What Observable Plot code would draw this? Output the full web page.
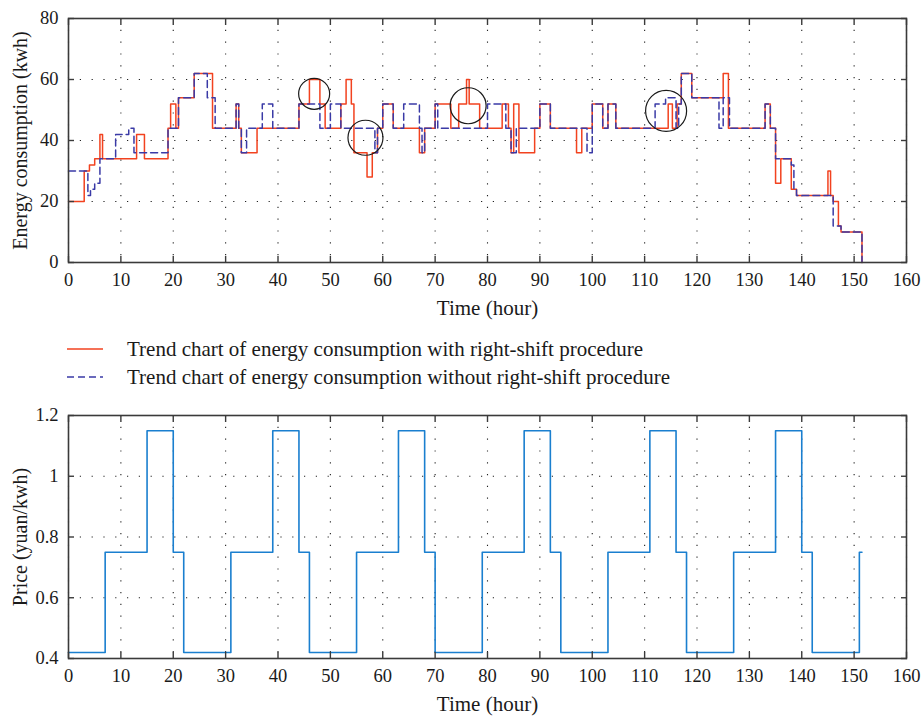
<!DOCTYPE html>
<html>
<head>
<meta charset="utf-8">
<script src="https://cdn.jsdelivr.net/npm/d3@7"></script>
<script src="https://cdn.jsdelivr.net/npm/@observablehq/plot@0.6"></script>
<style>
  body { margin: 0; background: #fff; }
  #page { position: relative; width: 924px; height: 716px; font-family: "Liberation Serif", "DejaVu Serif", serif; color: #1a1a1a; }
  #top, #bottom, #legend { position: absolute; left: 0; }
  #top { top: 0; }
  #bottom { top: 395px; }
  #legend { top: 335px; font-size: 21px; }
  .row { position: absolute; left: 0; height: 28px; width: 924px; }
  .row svg { position: absolute; left: 64px; top: 0; }
  .row span { position: absolute; left: 127px; top: 2px; white-space: nowrap; line-height: 24px; }
</style>
</head>
<body>
<div id="page">
  <div id="top"></div>
  <div id="legend"></div>
  <div id="bottom"></div>
</div>
<script>
// Hourly energy profile with the right-shift procedure: each level holds from its start hour to the next one
const hoursWith = [0, 3, 4, 5, 6, 6.5, 13, 14.5, 19, 19.5, 20.5, 21, 24, 27.5, 32, 32.5, 33, 36,
  44, 46, 48, 49, 52, 53, 54, 54.5, 57, 58, 59, 60, 62, 67, 68, 70, 73, 74.5, 76, 76.5, 78.5,
  82.8, 84, 84.5, 85, 86, 89, 90, 92, 97, 98, 100, 102, 103, 104.5, 114.5, 115.3, 116.2, 117,
  119, 125, 126, 133, 134, 135, 136, 138, 139, 145, 145.5, 146, 147, 147.5];
const energyWith = [20, 30, 32, 34, 42, 34, 42, 34, 44, 52, 44, 54, 62, 44, 52, 44, 36, 44,
  52, 60, 52, 44, 52, 60, 52, 36, 28, 36, 44, 52, 44, 36, 44, 52, 44, 52, 60, 52, 44,
  52, 44, 36, 52, 36, 44, 52, 44, 36, 44, 52, 44, 52, 44, 52, 44, 52, 62,
  54, 62, 44, 52, 44, 26, 34, 24, 22, 30, 22, 20, 12, 10];

// Hourly energy profile without the right-shift procedure
const hoursWithout = [0, 3.7, 4.2, 5, 6, 9, 11.5, 12.5, 19, 21, 24, 26.5, 28, 32, 32.5, 33, 34,
  37, 39, 44, 48, 50, 52, 58.5, 59, 60, 62, 64, 67, 67.5, 68, 70, 70.5, 80, 83.5, 84.5, 85.5,
  90, 92, 99, 100, 102, 103, 104.5, 112, 114, 116, 116.5, 117, 119, 124.2, 125, 126.2, 133,
  134, 135, 138, 138.5, 139, 146, 147.5];
const energyWithout = [30, 22, 24, 26, 34, 42, 44, 36, 44, 54, 62, 54, 44, 52, 44, 36, 44,
  52, 44, 52, 44, 52, 44, 36, 44, 52, 44, 52, 44, 36, 44, 52, 44, 52, 44, 36, 44,
  52, 44, 36, 52, 44, 52, 44, 52, 54, 44, 52, 62, 54, 44, 54, 44, 52,
  44, 34, 32, 24, 22, 12, 10];

const endHour = 151.5;

// Time-of-use electricity price (yuan/kwh)
const priceHours = [0, 7, 15, 20, 22, 31, 39, 44, 46, 55, 63, 68, 70, 79, 87, 92, 94, 103,
  111, 116, 118, 127, 135, 140, 142, 151];
const priceValues = [0.42, 0.75, 1.15, 0.75, 0.42, 0.75, 1.15, 0.75, 0.42, 0.75, 1.15, 0.75,
  0.42, 0.75, 1.15, 0.75, 0.42, 0.75, 1.15, 0.75, 0.42, 0.75, 1.15, 0.75, 0.42, 0.75];

// Highlighted shifts (hour, kwh) and ring radii in pixels
const ringHours = [46.9, 56.7, 76.3, 114.1];
const ringLevels = [55.3, 40.9, 51.4, 49.7];
const ringSizes = [15.5, 17.5, 18, 20.5];

const timeTicks = [0, 10, 20, 30, 40, 50, 60, 70, 80, 90, 100, 110, 120, 130, 140, 150, 160];
const energyTicks = [0, 20, 40, 60, 80];
const priceTicks = [0.4, 0.6, 0.8, 1, 1.2];

const RED = "#f2421f";
const BLUE = "#3a3aa6";
const PRICE = "#1a7fcf";
const AXIS = "#3a3a3a";
const INK = "#1a1a1a";
const FONT = "'Liberation Serif', 'DejaVu Serif', serif";

function steps(hours, values, tail) {
  const rows = hours.map((t, i) => ({t, v: values[i]}));
  rows.push({t: endHour, v: values[values.length - 1]});
  if (tail !== undefined) rows.push({t: endHour, v: tail});
  return rows;
}

const withRows = steps(hoursWith, energyWith, 0);
const withoutRows = steps(hoursWithout, energyWithout, 0);
const priceRows = steps(priceHours, priceValues);
const rings = ringHours.map((t, i) => ({t, v: ringLevels[i], r: ringSizes[i]}));

const grid = {stroke: "#222", strokeOpacity: 1, strokeWidth: 1.1, strokeDasharray: "1.2,10.6"};

function frameMarks(yTicks, yFormat, xLabel, yLabel) {
  return [
    Plot.frame({stroke: AXIS, strokeWidth: 1.6}),
    Plot.axisX(timeTicks, {anchor: "bottom", tickSize: -6, tickPadding: 16, stroke: AXIS, strokeWidth: 1.4, fontSize: 18.5, fill: INK, label: null}),
    Plot.axisX(timeTicks, {anchor: "top", tickSize: -6, tickFormat: () => "", stroke: AXIS, strokeWidth: 1.4, label: null}),
    Plot.axisY(yTicks, {anchor: "left", tickSize: -6, tickPadding: 16, tickFormat: yFormat, stroke: AXIS, strokeWidth: 1.4, fontSize: 18.5, fill: INK, label: null}),
    Plot.axisY(yTicks, {anchor: "right", tickSize: -6, tickFormat: () => "", stroke: AXIS, strokeWidth: 1.4, label: null}),
    Plot.text([xLabel], {frameAnchor: "bottom", textAnchor: "middle", dy: 52, fontSize: 21, fill: INK}),
    Plot.text([yLabel], {frameAnchor: "left", textAnchor: "middle", dx: -48, rotate: -90, fontSize: 20, fill: INK})
  ];
}

const topChart = Plot.plot({
  width: 924, height: 320,
  marginLeft: 68, marginRight: 18, marginTop: 18, marginBottom: 58,
  style: {fontFamily: FONT, fontSize: "18px", color: INK, background: "transparent"},
  x: {domain: [0, 160]},
  y: {domain: [0, 80]},
  r: {type: "identity"},
  marks: [
    Plot.gridX(timeTicks, grid),
    Plot.gridY(energyTicks, grid),
    Plot.line(withRows, {x: "t", y: "v", curve: "step-after", stroke: RED, strokeWidth: 1.5}),
    Plot.line(withoutRows, {x: "t", y: "v", curve: "step-after", stroke: BLUE, strokeWidth: 1.5, strokeDasharray: "7,4"}),
    Plot.dot(rings, {x: "t", y: "v", r: "r", stroke: INK, strokeWidth: 1.2, fill: "none"}),
    ...frameMarks(energyTicks, d => d, "Time (hour)", "Energy consumption (kwh)")
  ]
});

const bottomChart = Plot.plot({
  width: 924, height: 321,
  marginLeft: 68, marginRight: 18, marginTop: 20, marginBottom: 58,
  style: {fontFamily: FONT, fontSize: "18px", color: INK, background: "transparent"},
  x: {domain: [0, 160]},
  y: {domain: [0.4, 1.2]},
  marks: [
    Plot.gridX(timeTicks, grid),
    Plot.gridY(priceTicks, grid),
    Plot.line(priceRows, {x: "t", y: "v", curve: "step-after", stroke: PRICE, strokeWidth: 1.6}),
    ...frameMarks(priceTicks, d => String(d), "Time (hour)", "Price (yuan/kwh)")
  ]
});

document.getElementById("top").appendChild(topChart);
document.getElementById("bottom").appendChild(bottomChart);

// legend between the two panels
const legend = document.getElementById("legend");
[
  {label: "Trend chart of energy consumption with right-shift procedure", color: RED, dash: null},
  {label: "Trend chart of energy consumption without right-shift procedure", color: BLUE, dash: "7,4"}
].forEach((item, i) => {
  const row = document.createElement("div");
  row.className = "row";
  row.style.top = (i * 28) + "px";
  const svg = d3.create("svg").attr("width", 42).attr("height", 28);
  svg.append("line").attr("x1", 3).attr("x2", 39).attr("y1", 14).attr("y2", 14)
    .attr("stroke", item.color).attr("stroke-width", 1.5).attr("stroke-dasharray", item.dash);
  row.appendChild(svg.node());
  const span = document.createElement("span");
  span.textContent = item.label;
  row.appendChild(span);
  legend.appendChild(row);
});
</script>
</body>
</html>
